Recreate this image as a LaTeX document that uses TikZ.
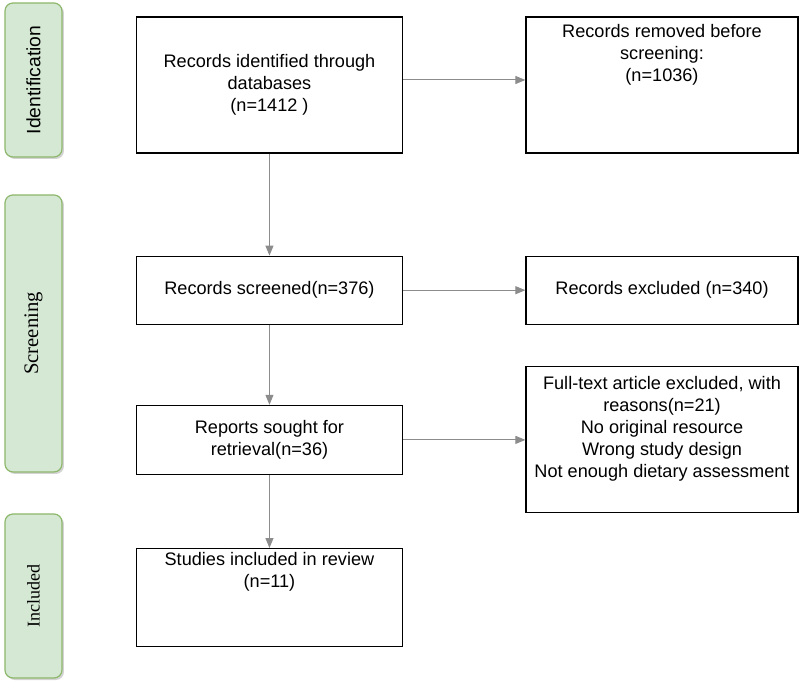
\documentclass[tikz,border=0pt]{standalone}
\usepackage{fontspec}
\setmainfont{Liberation Sans}
\newfontfamily\sideserif{Liberation Serif}
\usetikzlibrary{arrows.meta,positioning,shadows}
\definecolor{phasefill}{HTML}{D5E8D4}
\definecolor{phaseline}{HTML}{8DB86B}
\definecolor{arrgray}{HTML}{8C8C8C}

\begin{document}
\begin{tikzpicture}[
  node distance=76.5pt and 91.5pt,
  box/.style={draw, line width=0.9pt, align=center, minimum width=200pt, minimum height=51pt,
              inner sep=0pt, font=\fontsize{13.6}{16.5}\selectfont},
  wide/.style={box, minimum width=204pt},
  toptext/.style 2 args={label={[font=\fontsize{13.6}{16.5}\selectfont, align=center, anchor=north, yshift=#1]north:#2}},
  phase/.style={draw=phaseline, fill=phasefill, rounded corners=6pt, line width=0.9pt, inner sep=0pt,
                minimum width=42.75pt, drop shadow={shadow xshift=1.5pt, shadow yshift=-1.5pt, opacity=0.35}},
  arr/.style={-{Triangle[length=7.5pt,width=6pt]}, draw=arrgray, line width=0.75pt}
]
\useasboundingbox (0,0) rectangle (600pt,-518.25pt);

\node[phase, minimum height=115.5pt, font=\fontsize{14.5}{16}\selectfont] (idphase) at (25.1pt,-60pt) {\rotatebox{90}{Identification}};
\node[phase, minimum height=207.75pt, font=\sideserif\fontsize{15.5}{17}\selectfont] (scphase) at (25.1pt,-250.1pt) {\rotatebox{90}{Screening}};
\node[phase, minimum height=123pt, font=\sideserif\fontsize{13.5}{16}\selectfont] (inphase) at (25.1pt,-447pt) {\rotatebox{90}{Included}};

\node[box, minimum height=102pt] (ident) at (202.1pt,-63.75pt) {Records identified through\\databases\\(n=1412 )};
\node[wide, minimum height=102pt, right=of ident, toptext={-2.25pt}{Records removed before\\screening:\\(n=1036)}] (removed) {};
\node[box, below=of ident] (screened) {Records screened(n=376)};
\node[wide, right=of screened] (excluded) {Records excluded (n=340)};
\node[box, minimum height=51.75pt, below=60pt of screened] (sought) {Reports sought for\\retrieval(n=36)};
\node[wide, minimum height=109.5pt, right=of sought,
      toptext={-3.75pt}{Full-text article excluded, with\\reasons(n=21)\\No original resource\\Wrong study design\\Not enough dietary assessment}] (fulltext) {};
\node[box, minimum height=73.5pt, below=54.75pt of sought, toptext={0pt}{Studies included in review\\(n=11)}] (incl) {};

\draw[arr] ([yshift=3.75pt]ident.east) -- ([yshift=3.75pt]removed.west);
\draw[arr] (ident) -- (screened);
\draw[arr] (screened) -- (excluded);
\draw[arr] (screened) -- (sought);
\draw[arr] (sought) -- (fulltext);
\draw[arr] (sought) -- (incl);
\end{tikzpicture}
\end{document}
